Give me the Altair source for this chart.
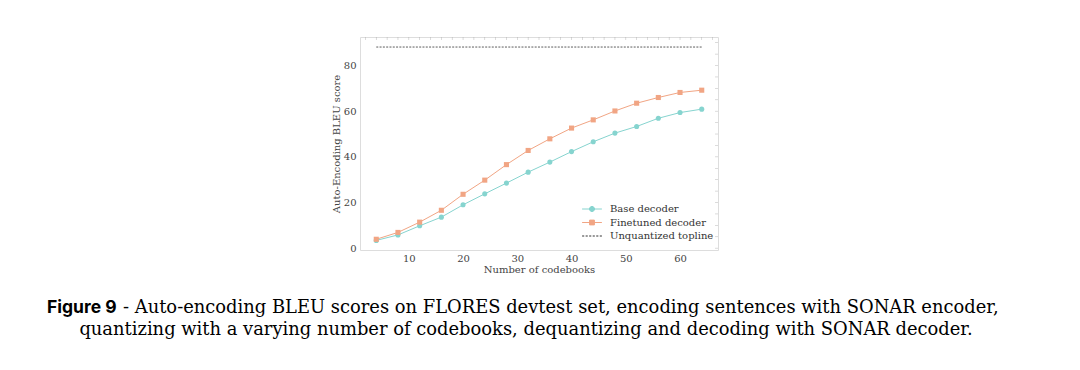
import altair as alt
import pandas as pd

codebooks = [4, 8, 12, 16, 20, 24, 28, 32, 36, 40, 44, 48, 52, 56, 60, 64]
base_bleu = [3.4, 5.8, 9.8, 13.6, 19.0, 23.8, 28.5, 33.3, 37.7, 42.3, 46.6, 50.4, 53.3, 56.9, 59.4, 60.9]
finetuned_bleu = [3.9, 6.9, 11.4, 16.6, 23.6, 29.8, 36.6, 42.8, 47.9, 52.6, 56.2, 60.1, 63.5, 66.0, 68.2, 69.2]
topline_x = [4, 64]
topline_bleu = [88.1, 88.1]
series_names = ["Base decoder", "Finetuned decoder", "Unquantized topline"]
series_colors = ["#86d4cf", "#f1a584", "#333333"]
series_markers = ["circle", "square"]
x_ticks = [10, 20, 30, 40, 50, 60]
y_ticks = [0, 20, 40, 60, 80]
x_minor = list(range(2, 67, 2))
y_minor = list(range(0, 92, 5))
caption_bold = "Figure 9"
caption_line1 = "- Auto-encoding BLEU scores on FLORES devtest set, encoding sentences with SONAR encoder,"
caption_line2 = "quantizing with a varying number of codebooks, dequantizing and decoding with SONAR decoder."

rows = []
for x, b in zip(codebooks, base_bleu):
    rows.append({"series": series_names[0], "marker": series_markers[0], "x": x, "y": b})
for x, f in zip(codebooks, finetuned_bleu):
    rows.append({"series": series_names[1], "marker": series_markers[1], "x": x, "y": f})
curves = pd.DataFrame(rows)
top = pd.DataFrame({"series": series_names[2], "x": topline_x, "y": topline_bleu})

W, H = 358, 213
FONT = "DejaVu Serif"

xs = alt.Scale(domain=[1, 67], nice=False, zero=False)
ys = alt.Scale(domain=[-0.8, 92.5], nice=False, zero=False)
cs = alt.Scale(domain=series_names, range=series_colors)
circle = "M-1.4,0L1.4,0M0.36,0A0.36,0.36 0 1,1 -0.36,0A0.36,0.36 0 1,1 0.36,0Z"
square = "M-1.4,0L1.4,0M-0.34,-0.34L0.34,-0.34L0.34,0.34L-0.34,0.34Z"
dashed = "M-1.4,0L-1.1,0M-0.9,0L-0.6,0M-0.4,0L-0.1,0M0.1,0L0.4,0M0.6,0L0.9,0M1.1,0L1.4,0"
ss = alt.Scale(domain=series_names, range=[circle, square, dashed])

xaxis = alt.Axis(title="Number of codebooks", values=x_ticks, ticks=False, domain=False, grid=False,
                 labelFont=FONT, labelFontSize=10, labelColor="#444444", labelPadding=3,
                 titleFont=FONT, titleFontSize=10, titleFontWeight="normal", titleColor="#444444", titlePadding=1)
yaxis = alt.Axis(title="Auto-Encoding BLEU score", values=y_ticks, ticks=False, domain=False, grid=False,
                 labelFont=FONT, labelFontSize=10, labelColor="#444444", labelPadding=4,
                 titleFont=FONT, titleFontSize=10, titleFontWeight="normal", titleColor="#444444", titlePadding=2)

legend = alt.Legend(title=None, orient="none", legendX=224, legendY=164,
                    labelFont=FONT, labelFontSize=10, labelColor="#333333",
                    symbolSize=200, symbolStrokeWidth=1, rowPadding=0.5, labelOffset=10)

lines = alt.Chart(curves).mark_line(strokeWidth=1).encode(
    x=alt.X("x:Q", scale=xs, axis=xaxis),
    y=alt.Y("y:Q", scale=ys, axis=yaxis),
    color=alt.Color("series:N", scale=cs, legend=legend),
    detail="series:N",
)
toplayer = alt.Chart(top).mark_line(strokeWidth=0.8, strokeDash=[2, 1.3]).encode(
    x=alt.X("x:Q", scale=xs),
    y=alt.Y("y:Q", scale=ys),
    color=alt.Color("series:N", scale=cs, legend=legend),
)
points = alt.Chart(curves).mark_point(filled=True, opacity=1, size=26).encode(
    x=alt.X("x:Q", scale=xs),
    y=alt.Y("y:Q", scale=ys),
    color=alt.Color("series:N", scale=cs, legend=legend),
    shape=alt.Shape("marker:N", scale=None, legend=None),
)
# legend-only layer (filtered to no rows): provides line+marker legend symbols
legend_layer = alt.Chart(curves).transform_filter("datum.x < 0").mark_point(filled=True, opacity=1).encode(
    x=alt.X("x:Q", scale=xs),
    y=alt.Y("y:Q", scale=ys),
    color=alt.Color("series:N", scale=cs, legend=legend),
    stroke=alt.Stroke("series:N", scale=cs, legend=legend),
    shape=alt.Shape("series:N", scale=ss, legend=legend),
)

tick_df_x = pd.DataFrame({"x": x_minor})
tick_df_y = pd.DataFrame({"y": y_minor})
top_ticks = alt.Chart(tick_df_x).mark_tick(color="#aaaaaa", thickness=0.6, size=3, orient="vertical").encode(
    x=alt.X("x:Q", scale=xs), y=alt.value(1.5))
right_ticks = alt.Chart(tick_df_y).mark_tick(color="#aaaaaa", thickness=0.6, size=3, orient="horizontal").encode(
    y=alt.Y("y:Q", scale=ys), x=alt.value(W - 1.5))

cap = pd.DataFrame({"a": [0]})
cap_bold = alt.Chart(cap).mark_text(text=caption_bold, font="Inter", fontWeight="bold", fontSize=17.5,
                                    align="left", baseline="alphabetic", color="#000000").encode(
    x=alt.value(47 - 360), y=alt.value(313 - 37))
cap_1 = alt.Chart(cap).mark_text(text=caption_line1, font="DejaVu Serif", fontSize=17.9,
                                 align="left", baseline="alphabetic", color="#000000").encode(
    x=alt.value(123 - 360), y=alt.value(313 - 37))
cap_2 = alt.Chart(cap).mark_text(text=caption_line2, font="DejaVu Serif", fontSize=17.9,
                                 align="center", baseline="alphabetic", color="#000000").encode(
    x=alt.value(526 - 360), y=alt.value(335 - 37))

chart = alt.layer(lines, toplayer, points, legend_layer, top_ticks, right_ticks, cap_bold, cap_1, cap_2).properties(
    width=W, height=H,
    autosize=alt.AutoSizeParams(type="none"),
    padding={"left": 352, "top": 29, "right": 1064 - 352 - W, "bottom": 354 - 29 - H},
).configure_view(stroke="#dddddd", strokeWidth=1).configure(background="white")

chart.save("out.html", embed_options={"renderer": "svg", "actions": False})
